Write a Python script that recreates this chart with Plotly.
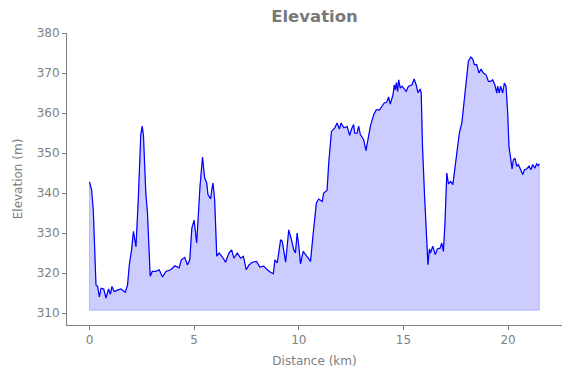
import plotly.graph_objects as go

distance_km = [0.0, 0.1, 0.18, 0.31, 0.39, 0.47, 0.55, 0.68, 0.79, 0.91, 1.0, 1.07, 1.18, 1.34, 1.5,
               1.71, 1.82, 1.9, 2.01, 2.1, 2.22, 2.33, 2.45, 2.52, 2.58, 2.69, 2.77, 2.9, 3.0, 3.17,
               3.33, 3.49, 3.65, 3.88, 4.08, 4.28, 4.39, 4.55, 4.68, 4.79, 4.89, 5.0, 5.12, 5.28,
               5.4, 5.5, 5.6, 5.66, 5.79, 5.84, 5.9, 5.98, 6.08, 6.19, 6.35, 6.5, 6.66, 6.79, 6.9,
               7.06, 7.22, 7.35, 7.49, 7.62, 7.78, 7.98, 8.14, 8.33, 8.49, 8.65, 8.78, 8.86, 8.97,
               9.13, 9.21, 9.37, 9.52, 9.65, 9.76, 9.84, 9.92, 10.0, 10.08, 10.21, 10.32, 10.43,
               10.56, 10.69, 10.84, 10.95, 11.12, 11.19, 11.35, 11.43, 11.56, 11.72, 11.83, 11.94,
               12.02, 12.15, 12.31, 12.43, 12.52, 12.62, 12.67, 12.78, 12.86, 12.94, 13.02, 13.1,
               13.21, 13.31, 13.42, 13.58, 13.7, 13.86, 13.97, 14.08, 14.2, 14.29, 14.37, 14.5,
               14.56, 14.61, 14.66, 14.72, 14.77, 14.85, 14.93, 15.04, 15.13, 15.24, 15.4, 15.51,
               15.61, 15.69, 15.8, 15.85, 15.91, 16.01, 16.12, 16.17, 16.24, 16.29, 16.4, 16.52,
               16.62, 16.75, 16.83, 16.91, 16.99, 17.07, 17.15, 17.26, 17.36, 17.47, 17.58, 17.67,
               17.79, 17.9, 18.03, 18.1, 18.22, 18.31, 18.39, 18.5, 18.61, 18.71, 18.82, 18.94,
               19.06, 19.17, 19.26, 19.37, 19.46, 19.5, 19.58, 19.64, 19.74, 19.82, 19.9, 19.98,
               20.04, 20.12, 20.19, 20.25, 20.33, 20.41, 20.49, 20.57, 20.7, 20.78, 20.89, 21.0,
               21.09, 21.17, 21.28, 21.36, 21.44, 21.49]

elevation_m = [342.8, 340.8, 335.8, 317.0, 316.6, 314.0, 316.2, 316.0, 313.7, 316.0, 314.7, 316.6, 315.4, 315.8, 316.0,
               315.2, 317.1, 322.0, 325.8, 330.4, 326.6, 338.3, 354.6, 356.7, 354.2, 340.0, 335.0, 319.2, 320.4, 320.4,
               320.8, 319.0, 320.4, 320.8, 321.8, 321.3, 323.3, 323.9, 322.0, 323.3, 331.2, 333.2, 327.5, 341.7,
               349.0, 343.8, 342.5, 339.6, 338.5, 340.8, 342.5, 338.3, 324.2, 325.0, 324.0, 322.7, 325.0, 325.8, 323.7,
               325.0, 323.7, 324.2, 320.8, 322.0, 322.7, 322.9, 321.5, 321.7, 320.8, 320.2, 319.8, 323.3, 322.5,
               328.3, 327.9, 322.7, 330.8, 328.3, 325.8, 325.0, 330.0, 326.7, 322.3, 325.4, 324.6, 324.0,
               322.9, 330.0, 337.5, 338.5, 337.9, 340.0, 340.7, 347.5, 355.4, 356.3, 357.5, 356.0,
               357.5, 356.3, 356.6, 354.4, 356.0, 357.1, 355.0, 354.9, 356.7, 354.6, 353.8, 353.3,
               350.6, 353.3, 356.7, 359.6, 360.8, 360.8, 361.7, 362.5, 362.7, 364.0, 362.2, 364.5,
               367.0, 365.8, 367.6, 365.4, 368.3, 366.2, 366.7, 365.8, 365.4, 366.7, 367.0, 368.5,
               367.0, 365.1, 366.0, 365.0, 351.7, 339.2, 325.8, 322.1, 326.0, 325.0, 326.7, 324.6,
               326.0, 326.2, 327.5, 325.4, 333.3, 345.0, 342.3, 342.9, 342.1, 346.2, 350.4, 355.0,
               357.5, 363.3, 368.8, 372.9, 374.0, 373.5, 372.1, 372.1, 370.0, 371.0, 370.0, 369.6,
               367.9, 367.9, 368.3, 367.0, 365.0, 366.7, 365.0, 366.7, 365.0, 367.5, 366.7, 360.0,
               351.7, 349.2, 346.0, 348.3, 348.7, 346.7, 347.1, 346.2, 344.6, 345.8, 346.0, 346.7,
               345.8, 347.1, 346.2, 347.3, 346.8, 347.3]

fill_base = min(elevation_m) - 3

x_ticks = [0, 5, 10, 15, 20]
y_ticks = [310, 320, 330, 340, 350, 360, 370, 380]

poly_x = distance_km + [distance_km[-1], distance_km[0], distance_km[0]]
poly_y = elevation_m + [fill_base, fill_base, elevation_m[0]]

fig = go.Figure()
fig.add_trace(go.Scatter(x=poly_x, y=poly_y, mode="lines", fill="toself",
                         fillcolor="rgba(0,0,255,0.2)",
                         line=dict(color="rgba(0,0,255,0.2)", width=1),
                         hoverinfo="skip", showlegend=False))
fig.add_trace(go.Scatter(x=distance_km, y=elevation_m, mode="lines",
                         line=dict(color="blue", width=1.2), showlegend=False))

gray = "#808080"
# page body adds an 8px offset, so the figure is sized to fit within the window
fig.update_layout(
    width=563, height=370,
    margin=dict(l=59, r=9, t=25, b=53, autoexpand=False),
    plot_bgcolor="white", paper_bgcolor="white",
    font=dict(family="DejaVu Sans", color=gray, size=12),
    title=dict(text="<b>Elevation</b>", x=0.5, xref="paper", xanchor="center",
               y=0.9765, yref="container", yanchor="middle",
               font=dict(size=16.5, color="#787878")),
    showlegend=False,
)
fig.update_xaxes(range=[-1.075, 22.575], tickvals=x_ticks, showgrid=False, zeroline=False,
                 automargin=False,
                 showline=True, linecolor=gray, linewidth=1, ticks="outside", ticklen=4,
                 tickcolor=gray, tickfont=dict(size=12, color=gray),
                 title=dict(text="Distance (km)", font=dict(size=12, color=gray), standoff=10))
fig.update_yaxes(range=[307, 380], tickvals=y_ticks, showgrid=False, zeroline=False,
                 automargin=False,
                 showline=True, linecolor=gray, linewidth=1, ticks="outside", ticklen=4,
                 tickcolor=gray, tickfont=dict(size=12, color=gray),
                 title=dict(text="Elevation (m)", font=dict(size=12, color=gray), standoff=11))

fig.write_html("out.html")
